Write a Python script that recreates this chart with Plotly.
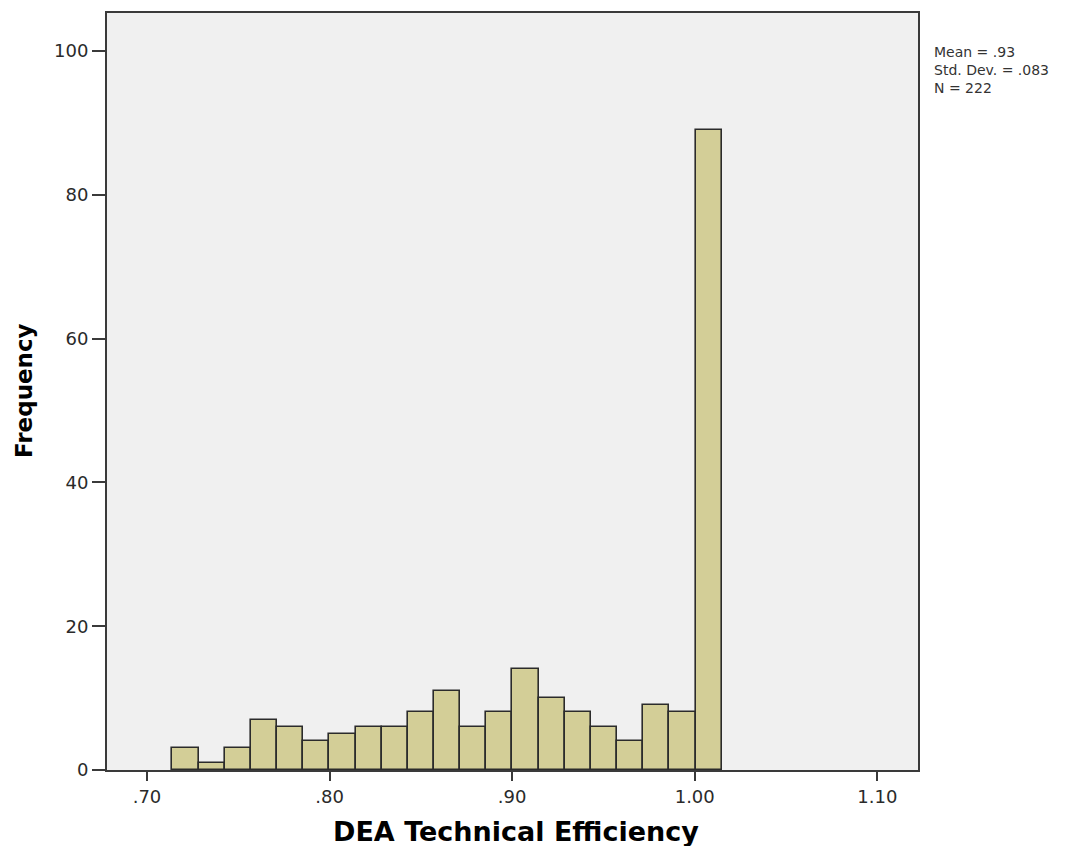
import plotly.graph_objects as go

# ---- data ----
bin_start = 0.7139          # left edge of first bin
bin_width = 0.01433         # bin width
frequencies = [3, 1, 3, 7, 6, 4, 5, 6, 6, 8, 11, 6, 8, 14, 10, 8, 6, 4, 9, 8, 89]
tick_values = [0.70, 0.80, 0.90, 1.00, 1.10]
tick_labels = [".70", ".80", ".90", "1.00", "1.10"]
y_ticks = [0, 20, 40, 60, 80, 100]
stats_lines = ["Mean = .93", "Std. Dev. = .083", "N = 222"]
x_title = "DEA Technical Efficiency"
y_title = "Frequency"

centers = [bin_start + (i + 0.5) * bin_width for i in range(len(frequencies))]

fig = go.Figure()
fig.add_trace(go.Bar(
    x=centers,
    y=frequencies,
    width=[bin_width] * len(frequencies),
    marker=dict(color="#D3CE97", line=dict(color="#2b2b2b", width=1.6)),
    hoverinfo="x+y",
    showlegend=False,
))

axis_font = dict(family="DejaVu Sans", size=18, color="#2a2a2a")

fig.update_layout(
    width=1090, height=846,
    margin=dict(l=107, r=172, t=11, b=76),
    paper_bgcolor="white",
    plot_bgcolor="#F0F0F0",
    bargap=0,
    xaxis=dict(
        range=[0.6781, 1.1223],
        tickvals=tick_values, ticktext=tick_labels,
        showgrid=False, zeroline=False,
        showline=True, linecolor="#3a3a3a", linewidth=2, mirror=True,
        ticks="outside", ticklen=9, tickwidth=2, tickcolor="#3a3a3a",
        tickfont=axis_font,
    ),
    yaxis=dict(
        range=[0, 105.3],
        tickvals=y_ticks,
        showgrid=False, zeroline=False,
        showline=True, linecolor="#3a3a3a", linewidth=2, mirror=True,
        ticks="outside", ticklen=13, tickwidth=2, tickcolor="#3a3a3a",
        tickfont=axis_font,
    ),
)

# axis titles
fig.add_annotation(text=x_title, xref="paper", yref="paper", x=0.5037, y=-0.0817,
                   xanchor="center", yanchor="middle", showarrow=False,
                   font=dict(family="DejaVu Sans", size=27, color="#000000", weight="bold"))
fig.add_annotation(text=y_title, xref="paper", yref="paper", x=-0.1023, y=0.5007,
                   xanchor="center", yanchor="middle", showarrow=False, textangle=-90,
                   font=dict(family="DejaVu Sans", size=23, color="#000000", weight="bold"))

# statistics text block
fig.add_annotation(text="<br>".join(stats_lines), xref="paper", yref="paper",
                   x=1.0169, y=0.9242, xanchor="left", yanchor="middle",
                   align="left", showarrow=False,
                   font=dict(family="DejaVu Sans", size=14, color="#333333"))

fig.write_html("out.html")
